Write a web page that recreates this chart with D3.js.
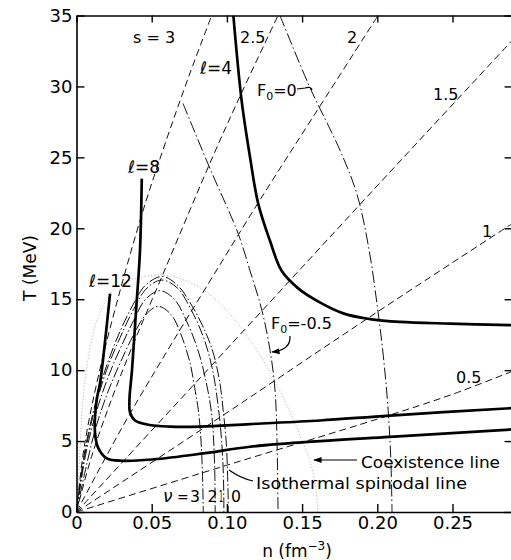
<!DOCTYPE html>
<html><head><meta charset="utf-8">
<script src="https://cdn.jsdelivr.net/npm/d3@7"></script>
<style>html,body{margin:0;padding:0;background:#fff;} svg{display:block;font-family:"DejaVu Sans",sans-serif;}</style>
</head><body><svg id="c" width="511" height="560"></svg>
<script>
// ---------- data ----------
const xTicks = [0, 0.05, 0.10, 0.15, 0.20, 0.25];
const xTickLabels = ["0", "0.05", "0.10", "0.15", "0.20", "0.25"];
const yTicks = [0, 5, 10, 15, 20, 25, 30, 35];
const yTickLabels = ["0", "5", "10", "15", "20", "25", "30", "35"];

// isentropes (dashed), [n, T]
const isentropeNames = ["s = 3", "2.5", "2", "1.5", "1", "0.5"];
const isentropeS3  = [[0,0],[0.005,4.5],[0.015,9.8],[0.03,16],[0.045,21.5],[0.06,26.3],[0.075,30.8],[0.0899,35]];
const isentropeS25 = [[0,0],[0.01,3.9],[0.03,9.8],[0.06,17.4],[0.09,24.9],[0.11,29.6],[0.134,35]];
const isentropeS2  = [[0,0],[0.03,5.9],[0.06,11.3],[0.09,16.5],[0.122,22],[0.16,28.3],[0.2005,35]];
const isentropeS15 = [[0,0],[0.1,11.5],[0.2,23],[0.2893,33.2]];
const isentropeS1  = [[0,0],[0.1,7.0],[0.2,14.1],[0.2893,20.3]];
const isentropeS05 = [[0,0],[0.1,3.3],[0.2,6.55],[0.25,8.3],[0.2893,9.9]];

// constant Landau parameter lines (dash-dot)
const landauF0zero  = [[0.1353,35],[0.1553,29.9],[0.1752,25.5],[0.1865,22.4],[0.1945,18.5],[0.2000,14.5],[0.2040,11],[0.2070,7.5],[0.2090,3.7],[0.2098,0]];
const landauF0minus = [[0.0708,28.8],[0.0888,24.2],[0.1074,19.65],[0.1154,17.0],[0.1233,14.2],[0.1287,11.4],[0.1320,8.6],[0.1333,5.1],[0.1340,0]];

// thick curves (l = 4, 8, 12)
const curveL4  = [[0.1043,35],[0.1098,29.0],[0.1154,25.0],[0.1209,21.7],[0.1287,19.1],[0.1364,17.0],[0.1470,15.8],[0.1597,14.9],[0.1774,14.0],[0.1951,13.6],[0.2151,13.4],[0.2483,13.28],[0.2893,13.17]];
const curveL8  = [[0.0434,23.5],[0.0422,18.4],[0.0396,14.2],[0.0369,10.0],[0.0352,7.9],[0.0356,7.0],[0.0389,6.45],[0.0489,6.13],[0.0622,6.02],[0.0821,6.02],[0.1154,6.2],[0.1619,6.45],[0.2084,6.8],[0.2893,7.32]];
const curveL12 = [[0.0223,15.4],[0.0156,9.06],[0.0134,7.9],[0.0123,5.6],[0.0145,4.5],[0.0201,3.78],[0.0311,3.61],[0.0511,3.71],[0.0843,4.13],[0.1154,4.6],[0.1619,5.0],[0.2084,5.3],[0.2893,5.82]];

// isothermal spinodals for nu = 0..3 (dash-dot)
const spinodalNu0 = [[0,0],[0.005,4],[0.011,7],[0.019,10],[0.028,12.5],[0.037,14.5],[0.046,16],[0.057,16.6],[0.067,16],[0.077,14.5],[0.0865,12.5],[0.0915,11],[0.0955,9],[0.0975,7.2],[0.0995,5],[0.1005,2.5],[0.101,0]];
const spinodalNu1 = [[0,0],[0.0055,4],[0.0115,7],[0.020,10],[0.029,12.3],[0.038,14.3],[0.047,15.8],[0.0567,16.35],[0.067,15.8],[0.076,14.3],[0.0845,12.3],[0.0905,10],[0.0945,7.2],[0.0965,5],[0.0977,2.5],[0.098,0]];
const spinodalNu2 = [[0,0],[0.006,4],[0.013,7],[0.021,9.5],[0.029,11.5],[0.038,13.5],[0.046,15],[0.0555,15.6],[0.065,15],[0.073,13.5],[0.0805,11.5],[0.0855,9.5],[0.0895,7.2],[0.0912,5],[0.092,2.5],[0.0922,0]];
const spinodalNu3 = [[0,0],[0.006,3],[0.013,6],[0.021,8.5],[0.029,10.5],[0.038,12.5],[0.046,13.9],[0.0544,14.5],[0.063,13.9],[0.0695,12.5],[0.0755,10.5],[0.079,8.5],[0.081,7.2],[0.0828,5],[0.0838,2.5],[0.0843,0]];
const nuLabels = ["3", "2", "1", "0"];

// coexistence line (faint dotted)
const coexistence = [[0,0],[0.0007,0.85],[0.0023,4.4],[0.0043,7.9],[0.0076,10.7],[0.0136,13.5],[0.0242,15.6],[0.0375,16.4],[0.057,16.7],[0.075,16.2],[0.09,15.2],[0.105,13.6],[0.118,11.7],[0.130,9.6],[0.140,7.5],[0.149,5.3],[0.1555,3.5],[0.159,1.7],[0.1606,0]];

// ---------- drawing ----------
const svg = d3.select("#c");
svg.append("rect").attr("width",511).attr("height",560).attr("fill","#fff");
const x = d3.scaleLinear().domain([0, 0.2893]).range([76.5, 511.6]);
const y = d3.scaleLinear().domain([0, 35]).range([512, 15.5]);

const defs = svg.append("defs");
defs.append("clipPath").attr("id","clip").append("rect")
  .attr("x",x(0)).attr("y",y(35)).attr("width",x(0.2893)-x(0)).attr("height",y(0)-y(35));
defs.append("marker").attr("id","arr").attr("viewBox","0 0 10 10").attr("refX",9).attr("refY",5)
  .attr("markerWidth",7).attr("markerHeight",7).attr("orient","auto-start-reverse")
  .append("path").attr("d","M0,1.5 L10,5 L0,8.5 Z").attr("fill","#000");

const line = d3.line().x(d=>x(d[0])).y(d=>y(d[1])).curve(d3.curveCatmullRom.alpha(0.5));
const plot = svg.append("g").attr("clip-path","url(#clip)");

// coexistence (faint)
plot.append("path").attr("d", line(coexistence)).attr("fill","none")
  .attr("stroke","#b8b8b8").attr("stroke-width",1).attr("stroke-dasharray","1.2,2");

// isentropes
[isentropeS3, isentropeS25, isentropeS2, isentropeS15, isentropeS1, isentropeS05].forEach(d=>{
  plot.append("path").attr("d", line(d)).attr("fill","none")
    .attr("stroke","#111").attr("stroke-width",1).attr("stroke-dasharray","7,4");
});

// spinodals
[spinodalNu0, spinodalNu1, spinodalNu2, spinodalNu3].forEach(d=>{
  plot.append("path").attr("d", line(d)).attr("fill","none")
    .attr("stroke","#111").attr("stroke-width",1).attr("stroke-dasharray","11,2.5,1.5,2.5");
});

// Landau lines
[landauF0zero, landauF0minus].forEach(d=>{
  plot.append("path").attr("d", line(d)).attr("fill","none")
    .attr("stroke","#111").attr("stroke-width",1).attr("stroke-dasharray","12,3,1.5,3");
});

// thick curves
[curveL4, curveL8, curveL12].forEach(d=>{
  plot.append("path").attr("d", line(d)).attr("fill","none")
    .attr("stroke","#000").attr("stroke-width",2.7).attr("stroke-linejoin","round");
});

// ---------- axes ----------
const axStyle = g => {
  g.attr("font-size",18).attr("font-family","DejaVu Sans");
  g.select(".domain").attr("stroke","#000").attr("stroke-width",1.6);
  g.selectAll(".tick line").attr("stroke","#000").attr("stroke-width",1.4);
  g.selectAll(".tick text").attr("fill","#000");
};
svg.append("g").attr("transform",`translate(0,${y(0)})`)
  .call(d3.axisBottom(x).tickValues(xTicks).tickFormat((d,i)=>xTickLabels[i]).tickSizeInner(-8).tickSizeOuter(0).tickPadding(4))
  .call(axStyle);
svg.append("g").attr("transform",`translate(${x(0)},0)`)
  .call(d3.axisLeft(y).tickValues(yTicks).tickFormat((d,i)=>yTickLabels[i]).tickSizeInner(-8).tickSizeOuter(0).tickPadding(4))
  .call(axStyle);
svg.append("g").attr("transform",`translate(0,${y(35)})`)
  .call(d3.axisTop(x).tickValues(xTicks).tickFormat("").tickSizeInner(-7).tickSizeOuter(0))
  .call(axStyle);
svg.append("g").attr("transform",`translate(${x(0.2893)},0)`)
  .call(d3.axisRight(y).tickValues(yTicks).tickFormat("").tickSizeInner(-7).tickSizeOuter(0))
  .call(axStyle);

// axis titles
svg.append("text").attr("transform","translate(36,268) rotate(-90)").attr("text-anchor","middle")
  .attr("font-size",17).text("T (MeV)");
const xt = svg.append("text").attr("x",297).attr("y",557).attr("text-anchor","middle").attr("font-size",17);
xt.append("tspan").text("n (fm");
xt.append("tspan").attr("font-size",12).attr("dy",-7).text("−3");
xt.append("tspan").attr("dy",7).text(")");

// ---------- labels ----------
const lab = (t, px, py, fs) => svg.append("text").attr("x",px).attr("y",py).attr("font-size",fs||16).text(t);
lab(isentropeNames[0], 133, 43);
lab(isentropeNames[1], 240, 43);
lab(isentropeNames[2], 347, 43);
lab(isentropeNames[3], 433, 100);
lab(isentropeNames[4], 482, 237);
lab(isentropeNames[5], 456, 383);

lab("ℓ=4", 200, 74, 17);
lab("ℓ=8", 128, 173, 17);
lab("ℓ=12", 89, 287, 17);

// F0 labels
const f0a = svg.append("text").attr("x",257).attr("y",96).attr("font-size",16);
f0a.append("tspan").text("F");
f0a.append("tspan").attr("font-size",11).attr("dy",4).text("0");
f0a.append("tspan").attr("dy",-4).text("=0");
svg.append("path").attr("d","M297,89 L305,88 Q311,86 312,90").attr("fill","none").attr("stroke","#000").attr("stroke-width",1.2);

const f0b = svg.append("text").attr("x",271).attr("y",329).attr("font-size",16);
f0b.append("tspan").text("F");
f0b.append("tspan").attr("font-size",11).attr("dy",4).text("0");
f0b.append("tspan").attr("dy",-4).text("=-0.5");
svg.append("path").attr("d","M290,336 Q291,350 272,352").attr("fill","none").attr("stroke","#000")
  .attr("stroke-width",1.2).attr("marker-end","url(#arr)");

// nu labels
lab("ν", 163, 502, 17).attr("font-style","italic");
lab("=", 177, 502, 14);
const nuX = [190, 207.5, 219, 231];
nuLabels.forEach((t,i)=>lab(t, nuX[i], 502, 16).attr("textLength", i===2 ? 4 : 10).attr("lengthAdjust","spacingAndGlyphs"));

// annotations
lab("Coexistence line", 361, 468, 16.5).attr("textLength",139).attr("lengthAdjust","spacingAndGlyphs");
svg.append("line").attr("x1",357).attr("y1",460).attr("x2",314).attr("y2",460)
  .attr("stroke","#000").attr("stroke-width",1.2).attr("marker-end","url(#arr)");
lab("Isothermal  spinodal line", 256, 489, 16.5).attr("textLength",211).attr("lengthAdjust","spacingAndGlyphs");
svg.append("path").attr("d","M253,481 Q240,478 229,470").attr("fill","none").attr("stroke","#000").attr("stroke-width",1.2);
</script></body></html>
